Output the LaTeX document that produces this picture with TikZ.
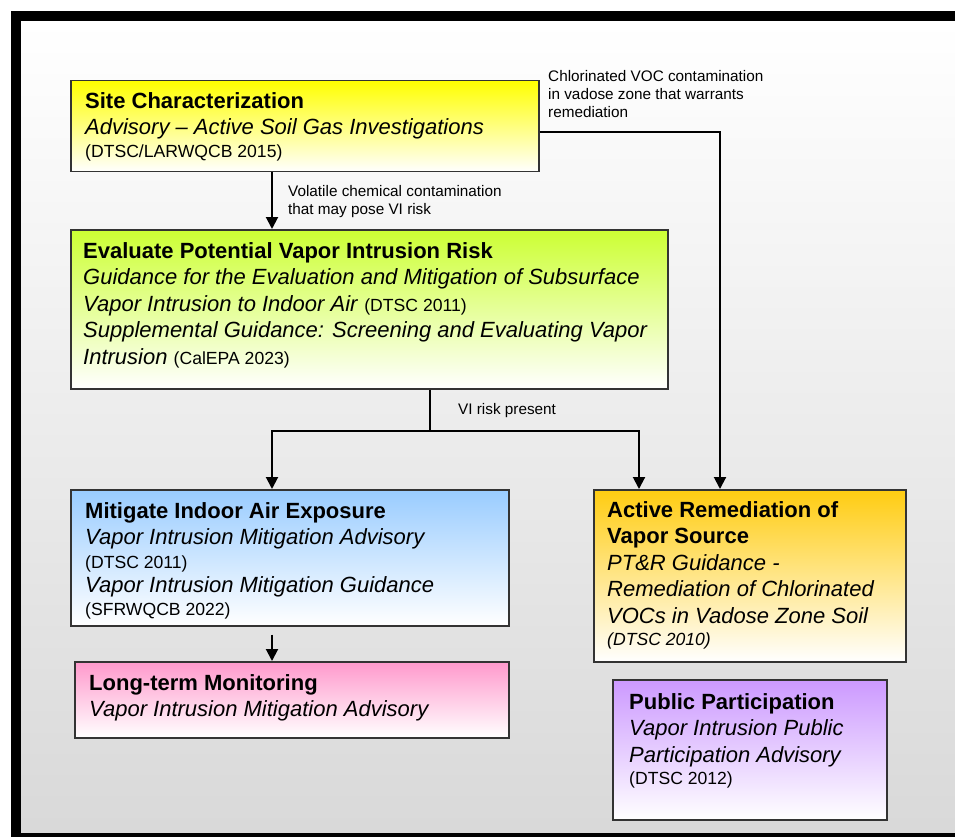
\documentclass[tikz,border=0pt]{standalone}
\usepackage{fontspec}
\setmainfont{Liberation Sans}
\usetikzlibrary{arrows.meta, positioning}
\definecolor{siteyellow}{HTML}{FFFF00}
\definecolor{evalgreen}{HTML}{CCFF33}
\definecolor{mitigblue}{HTML}{99CCFF}
\definecolor{monpink}{HTML}{FF99CC}
\definecolor{remorange}{HTML}{FFCC11}
\definecolor{pubviolet}{HTML}{CC99FF}
\newcommand{\src}[1]{{\fontsize{17.6pt}{26pt}\selectfont #1}}

\begin{document}
\begin{tikzpicture}[
        x=1pt, y=-1pt,
        stepbox/.style={draw=black!80, line width=1.5pt, anchor=north west, inner sep=0pt, bottom color=white},
        boxtext/.style={align=left, inner sep=0pt, font=\fontsize{22pt}{26.5pt}\selectfont},
        note/.style={align=left, inner sep=0pt, anchor=north west, font=\fontsize{15.3pt}{18pt}\selectfont},
        flow/.style={line width=2pt, -{Triangle[length=12pt, width=12pt]}}
        ]
        \useasboundingbox (0,0) rectangle (955,837);
        \clip (0,0) rectangle (955,837);

        % frame and background
        \fill[top color=white, bottom color=black!15] (21,21) rectangle (985,833);
        \draw[line width=10pt] (16,16) rectangle (990,838);

        % boxes
        \node[stepbox, top color=siteyellow, minimum width=468pt, minimum height=91pt] (site) at (70,80) {};
        \node[boxtext, below right=12pt and 15pt of site.north west] (sitetxt) {\textbf{Site Characterization}\\ \textit{Advisory -- Active Soil Gas Investigations}\\[-3.5pt] \src{(DTSC/LARWQCB 2015)}};

        \node[stepbox, top color=evalgreen, minimum width=597pt, minimum height=159pt] (eval) at (70,229) {};
        \node[boxtext, below right=13pt and 13pt of eval.north west] (evaltxt) {\textbf{Evaluate Potential Vapor Intrusion Risk}\\ \textit{Guidance for the Evaluation and Mitigation of Subsurface}\\ \textit{Vapor Intrusion to Indoor Air} \src{(DTSC 2011)}\\ \textit{Supplemental Guidance: Screening and Evaluating Vapor}\\ \textit{Intrusion} \src{(CalEPA 2023)}};

        \node[stepbox, top color=mitigblue, minimum width=438pt, minimum height=136pt] (mitig) at (70,489) {};
        \node[boxtext, below right=13pt and 15pt of mitig.north west] (mitigtxt) {\textbf{Mitigate Indoor Air Exposure}\\ \textit{Vapor Intrusion Mitigation Advisory}\\[-3pt] \src{(DTSC 2011)}\\[-2pt] \textit{Vapor Intrusion Mitigation Guidance}\\[-3.5pt] \src{(SFRWQCB 2022)}};

        \node[stepbox, top color=monpink, minimum width=434pt, minimum height=76pt] (lt) at (74,661) {};
        \node[boxtext, below right=13pt and 15pt of lt.north west] (lttxt) {\textbf{Long-term Monitoring}\\ \textit{Vapor Intrusion Mitigation Advisory}};

        \node[stepbox, top color=remorange, minimum width=312pt, minimum height=172pt] (active) at (593,489) {};
        \node[boxtext, below right=12pt and 14pt of active.north west] (activetxt) {\textbf{Active Remediation of}\\ \textbf{Vapor Source}\\ \textit{PT\&R Guidance -}\\ \textit{Remediation of Chlorinated}\\ \textit{VOCs in Vadose Zone Soil}\\[-4pt] \src{\textit{(DTSC 2010)}}};

        \node[stepbox, top color=pubviolet, minimum width=274pt, minimum height=140pt] (public) at (612,679) {};
        \node[boxtext, below right=14pt and 17pt of public.north west] (publictxt) {\textbf{Public Participation}\\ \textit{Vapor Intrusion Public}\\ \textit{Participation Advisory}\\[-4pt] \src{(DTSC 2012)}};

        % connector labels
        \node[note] (chlorlbl) at (548,70) {Chlorinated VOC contamination\\in vadose zone that warrants\\remediation};
        \node[note] (vollbl) at (288,185) {Volatile chemical contamination\\that may pose VI risk};
        \node[note] (vilbl) at (458,403) {VI risk present};

        % connectors
        \coordinate (spine) at (272,0);
        \coordinate (fork) at (430,431);
        \coordinate (rdrop) at (639,0);
        \coordinate (chlor) at (720,132);

        \draw[flow] (spine |- site.south) -- (spine |- eval.north);
        \draw[line width=2pt] (fork |- eval.south) -- (fork);
        \draw[flow] (fork) -| (spine |- mitig.north);
        \draw[flow] (fork) -| (rdrop |- active.north);
        \draw[flow] (site.east |- chlor) -| (chlor |- active.north);
        \draw[flow] (spine |- mitig.south) ++(0,8) -- (spine |- lt.north);
    \end{tikzpicture}
\end{document}
